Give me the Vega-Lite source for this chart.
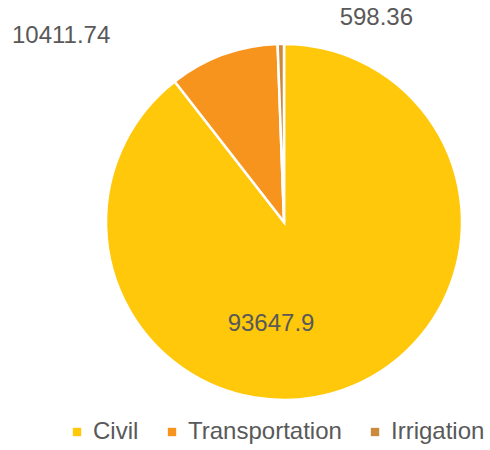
{
  "$schema": "https://vega.github.io/schema/vega-lite/v6.json",
  "width": 412,
  "height": 404,
  "autosize": {"type": "none"},
  "padding": {"left": 78, "top": 20, "right": 0, "bottom": 26},
  "background": "white",
  "config": {"view": {"stroke": null}, "font": "Liberation Sans"},
  "data": {
    "values": [
      {"category": "Civil", "value": 93647.9},
      {"category": "Transportation", "value": 10411.74},
      {"category": "Irrigation", "value": 598.36}
    ]
  },
  "encoding": {
    "theta": {"field": "value", "type": "quantitative", "stack": true},
    "order": {"field": "value", "type": "quantitative", "sort": "descending"}
  },
  "layer": [
    {
      "mark": {"type": "arc", "outerRadius": 178, "stroke": "white", "strokeWidth": 2.5},
      "encoding": {
        "color": {
          "field": "category",
          "type": "nominal",
          "scale": {
            "domain": ["Civil", "Transportation", "Irrigation"],
            "range": ["#FFC80A", "#F7941D", "#CC8A3C"]
          },
          "legend": {
            "orient": "none",
            "legendX": -13,
            "legendY": 400,
            "direction": "horizontal",
            "title": null,
            "symbolType": "square",
            "symbolSize": 70,
            "symbolStrokeWidth": 0,
            "labelFontSize": 24,
            "labelFont": "Liberation Sans",
            "labelColor": "#595959",
            "labelOffset": 4,
            "columnPadding": 21
          }
        }
      }
    },
    {
      "mark": {"type": "text", "radius": 108, "dx": -48, "fontSize": 24, "color": "#595959"},
      "encoding": {
        "text": {"field": "value", "type": "nominal", "condition": {"test": "datum.category !== 'Civil'", "value": ""}}
      }
    },
    {
      "mark": {"type": "text", "radius": 190, "dx": -158, "dy": -7, "fontSize": 24, "color": "#595959"},
      "encoding": {
        "text": {"field": "value", "type": "nominal", "condition": {"test": "datum.category !== 'Transportation'", "value": ""}}
      }
    },
    {
      "mark": {"type": "text", "radius": 204, "dx": 96, "fontSize": 24, "color": "#595959"},
      "encoding": {
        "text": {"field": "value", "type": "nominal", "condition": {"test": "datum.category !== 'Irrigation'", "value": ""}}
      }
    }
  ]
}
